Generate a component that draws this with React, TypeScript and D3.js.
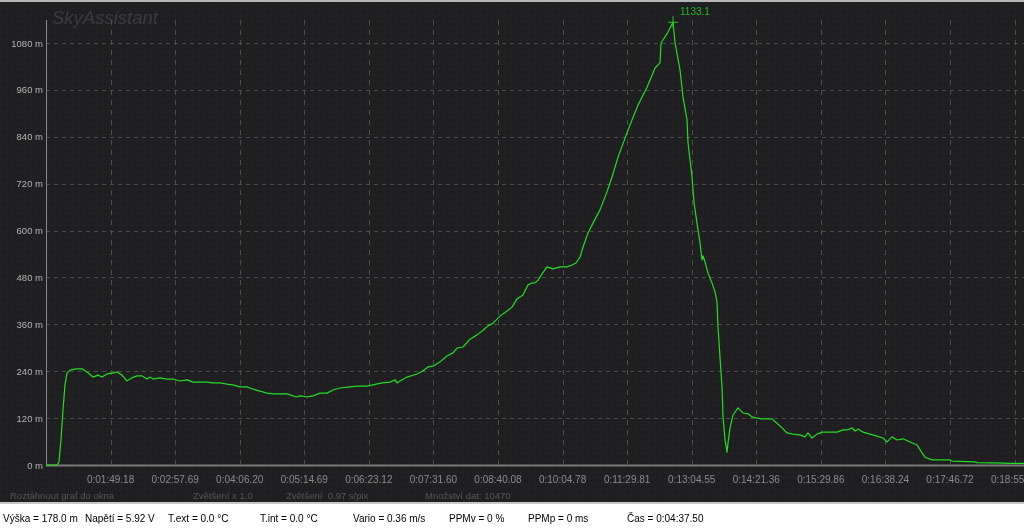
import React from "react";
import * as d3 from "d3";

// Position along the time axis, in grid divisions (one division per tick label)
const POS: number[] = [
  0, 0.093, 0.17, 0.201, 0.232, 0.263, 0.294, 0.325, 0.372, 0.465, 0.558, 0.635, 0.728, 0.805, 0.867, 0.945,
  1.022, 1.1, 1.177, 1.254, 1.332, 1.409, 1.487, 1.564, 1.611, 1.657, 1.766, 1.874, 1.967, 2.075, 2.184,
  2.277, 2.385, 2.493, 2.586, 2.695, 2.803, 2.896, 3.004, 3.113, 3.206, 3.314, 3.423, 3.516, 3.624, 3.732,
  3.825, 3.887, 3.934, 4.042, 4.135, 4.243, 4.352, 4.445, 4.553, 4.708, 4.832, 4.971, 5.064, 5.204, 5.328,
  5.405, 5.436, 5.483, 5.591, 5.746, 5.839, 5.916, 5.994, 6.102, 6.21, 6.303, 6.365, 6.458, 6.567, 6.675,
  6.768, 6.845, 6.923, 7.031, 7.139, 7.217, 7.294, 7.387, 7.465, 7.527, 7.573, 7.62, 7.682, 7.759, 7.852,
  7.96, 8.069, 8.146, 8.208, 8.27, 8.317, 8.394, 8.471, 8.58, 8.688, 8.766, 8.859, 8.998, 9.075, 9.168,
  9.308, 9.432, 9.509, 9.525, 9.633, 9.711, 9.742, 9.819, 9.865, 9.927, 9.943, 10.005, 10.036, 10.082,
  10.129, 10.16, 10.175, 10.206, 10.252, 10.314, 10.361, 10.392, 10.407, 10.438, 10.469, 10.485, 10.516,
  10.547, 10.562, 10.593, 10.64, 10.717, 10.795, 10.872, 10.934, 11.011, 11.089, 11.244, 11.321, 11.399,
  11.476, 11.569, 11.677, 11.755, 11.801, 11.863, 11.941, 12.018, 12.25, 12.343, 12.421, 12.483, 12.529,
  12.576, 12.653, 12.761, 12.87, 12.963, 13.025, 13.102, 13.18, 13.273, 13.381, 13.49, 13.567, 13.613,
  13.722, 14.0, 14.031, 14.387, 14.418, 14.852, 14.883, 15.146,
];

// Altitude in metres
const ALT: number[] = [
  0, 0, 0, 8, 64, 141, 205, 235, 243, 246, 246, 238, 225, 230, 225, 233,
  235, 238, 230, 215, 223, 228, 228, 220, 225, 220, 223, 220, 220, 215, 218,
  212, 212, 212, 210, 210, 207, 205, 200, 200, 194, 189, 184, 182, 182, 182,
  177, 174, 177, 174, 177, 184, 184, 192, 197, 200, 202, 202, 205, 210, 212,
  218, 210, 215, 225, 233, 241, 251, 253, 264, 279, 287, 299, 302, 322, 333,
  345, 356, 363, 381, 394, 404, 425, 435, 461, 466, 466, 473, 489, 507, 502,
  507, 507, 512, 517, 532, 558, 594, 619, 653, 699, 737, 788, 850, 883, 921,
  967, 1016, 1029, 1080, 1108, 1133.1, 1080, 1011, 942, 883, 824, 737, 671, 619,
  568, 525, 535, 520, 491, 466, 443, 417, 353, 276, 200, 123, 64,
  33, 56, 95, 128, 146, 133, 131, 123, 120, 118, 118, 107, 95,
  82, 79, 77, 72, 82, 69, 79, 84, 84, 90, 90, 95, 87,
  92, 84, 79, 74, 69, 59, 72, 64, 67, 59, 51, 31, 20,
  13, 13, 10, 8, 6, 5, 4, 4,
];

const X_LABELS: string[] = [
  "0:01:49.18", "0:02:57.69", "0:04:06.20", "0:05:14.69", "0:06:23.12", "0:07:31.60", "0:08:40.08",
  "0:10:04.78", "0:11:29.81", "0:13:04.55", "0:14:21.36", "0:15:29.86", "0:16:38.24", "0:17:46.72",
  "0:18:55.20",
];

const Y_TICKS: number[] = [0, 120, 240, 360, 480, 600, 720, 840, 960, 1080];

const PEAK_LABEL = "1133.1";

const INFO_LABELS: string[] = ["Roztáhnout graf do okna", "Zvětšení x 1.0", "Zvětšení  0.97 s/pix", "Množství dat: 10470"];
const INFO_X: number[] = [10, 193, 286, 425];

const STATUS_LABELS: string[] = [
  "Výška = 178.0 m", "Napětí = 5.92 V", "T.ext = 0.0 °C", "T.int = 0.0 °C",
  "Vario = 0.36 m/s", "PPMv = 0 %", "PPMp = 0 ms", "Čas = 0:04:37.50",
];
const STATUS_X: number[] = [3, 85, 168, 260, 353, 449, 528, 627];

const W = 1024;
const H = 532;

export default function App() {
  const x = d3.scaleLinear().domain([0, 15.146]).range([46, 1024]);
  const y = d3.scaleLinear().domain([0, 1080]).range([465, 43]);
  const pts: [number, number][] = POS.map((p, i) => [p, ALT[i]]);
  const line = d3
    .line<[number, number]>()
    .x((d) => x(d[0]))
    .y((d) => y(d[1]));

  let peakI = 0;
  ALT.forEach((v, i) => {
    if (v > ALT[peakI]) peakI = i;
  });
  const px = x(POS[peakI]);
  const py = y(ALT[peakI]);
  const font = "Arial, 'Liberation Sans', sans-serif";

  return (
    <svg
      width={W}
      height={H}
      style={{ position: "fixed", left: 0, top: 0, display: "block" }}
      fontFamily={font}
    >
      <defs>
        <pattern id="noise" width="6" height="6" patternUnits="userSpaceOnUse">
          <rect width="6" height="6" fill="#1f1f22" />
          <rect x="1" y="2" width="1" height="1" fill="#2a2a2d" />
          <rect x="4" y="4" width="1" height="1" fill="#28282b" />
          <rect x="3" y="0" width="1" height="1" fill="#19191b" />
        </pattern>
      </defs>
      <rect x={0} y={0} width={W} height={503} fill="url(#noise)" />
      <rect x={0} y={0} width={W} height={2} fill="#b8b8b8" />
      <rect x={0} y={502} width={W} height={2} fill="#c8c8c8" />
      <rect x={0} y={504} width={W} height={H - 504} fill="#ffffff" />

      <text x={52} y={24} fontSize={18.5} fontStyle="italic" fill="#3b3b3e">
        SkyAssistant
      </text>

      {/* horizontal gridlines */}
      {Y_TICKS.filter((t) => t > 0).map((t) => (
        <line
          key={"h" + t}
          x1={46}
          x2={W}
          y1={Math.round(y(t)) + 0.5}
          y2={Math.round(y(t)) + 0.5}
          stroke="#4b4d4b"
          strokeDasharray="4 4"
        />
      ))}
      {/* vertical gridlines */}
      {X_LABELS.map((_, i) => (
        <line
          key={"v" + i}
          x1={Math.round(x(i + 1)) + 0.5}
          x2={Math.round(x(i + 1)) + 0.5}
          y1={20}
          y2={464}
          stroke={i % 2 === 0 ? "#3f5a3f" : "#4b4f4b"}
          strokeDasharray="5 5"
        />
      ))}

      {/* axes */}
      <line x1={46.5} x2={46.5} y1={20} y2={465} stroke="#8c8c8c" />
      <line x1={46} x2={W} y1={465.5} y2={465.5} stroke="#7a7a7a" strokeWidth={2} />

      {Y_TICKS.map((t) => (
        <text key={"yl" + t} x={43} y={y(t) + 3.5} fontSize={9.5} fill="#b4b4b4" textAnchor="end">
          {t} m
        </text>
      ))}
      {X_LABELS.map((l, i) => (
        <text key={"xl" + l} x={x(i + 1)} y={483} fontSize={10} fill="#8c8c8c" textAnchor="middle">
          {l}
        </text>
      ))}

      <path d={line(pts) || ""} fill="none" stroke="#22dd22" strokeWidth={1.2} strokeLinejoin="round" />

      {/* peak marker */}
      <line x1={px - 5} x2={px + 5} y1={py} y2={py} stroke="#22cc22" />
      <line x1={px} x2={px} y1={py - 6} y2={py + 6} stroke="#22cc22" />
      <text x={px + 7} y={py - 7} fontSize={10} fill="#22bb22">
        {PEAK_LABEL}
      </text>

      {INFO_LABELS.map((l, i) => (
        <text key={"inf" + i} x={INFO_X[i]} y={499} fontSize={9.5} fill="#555558" style={{ whiteSpace: "pre" }}>
          {l}
        </text>
      ))}
      {STATUS_LABELS.map((l, i) => (
        <text key={"st" + i} x={STATUS_X[i]} y={522} fontSize={10} fill="#000000">
          {l}
        </text>
      ))}
    </svg>
  );
}
